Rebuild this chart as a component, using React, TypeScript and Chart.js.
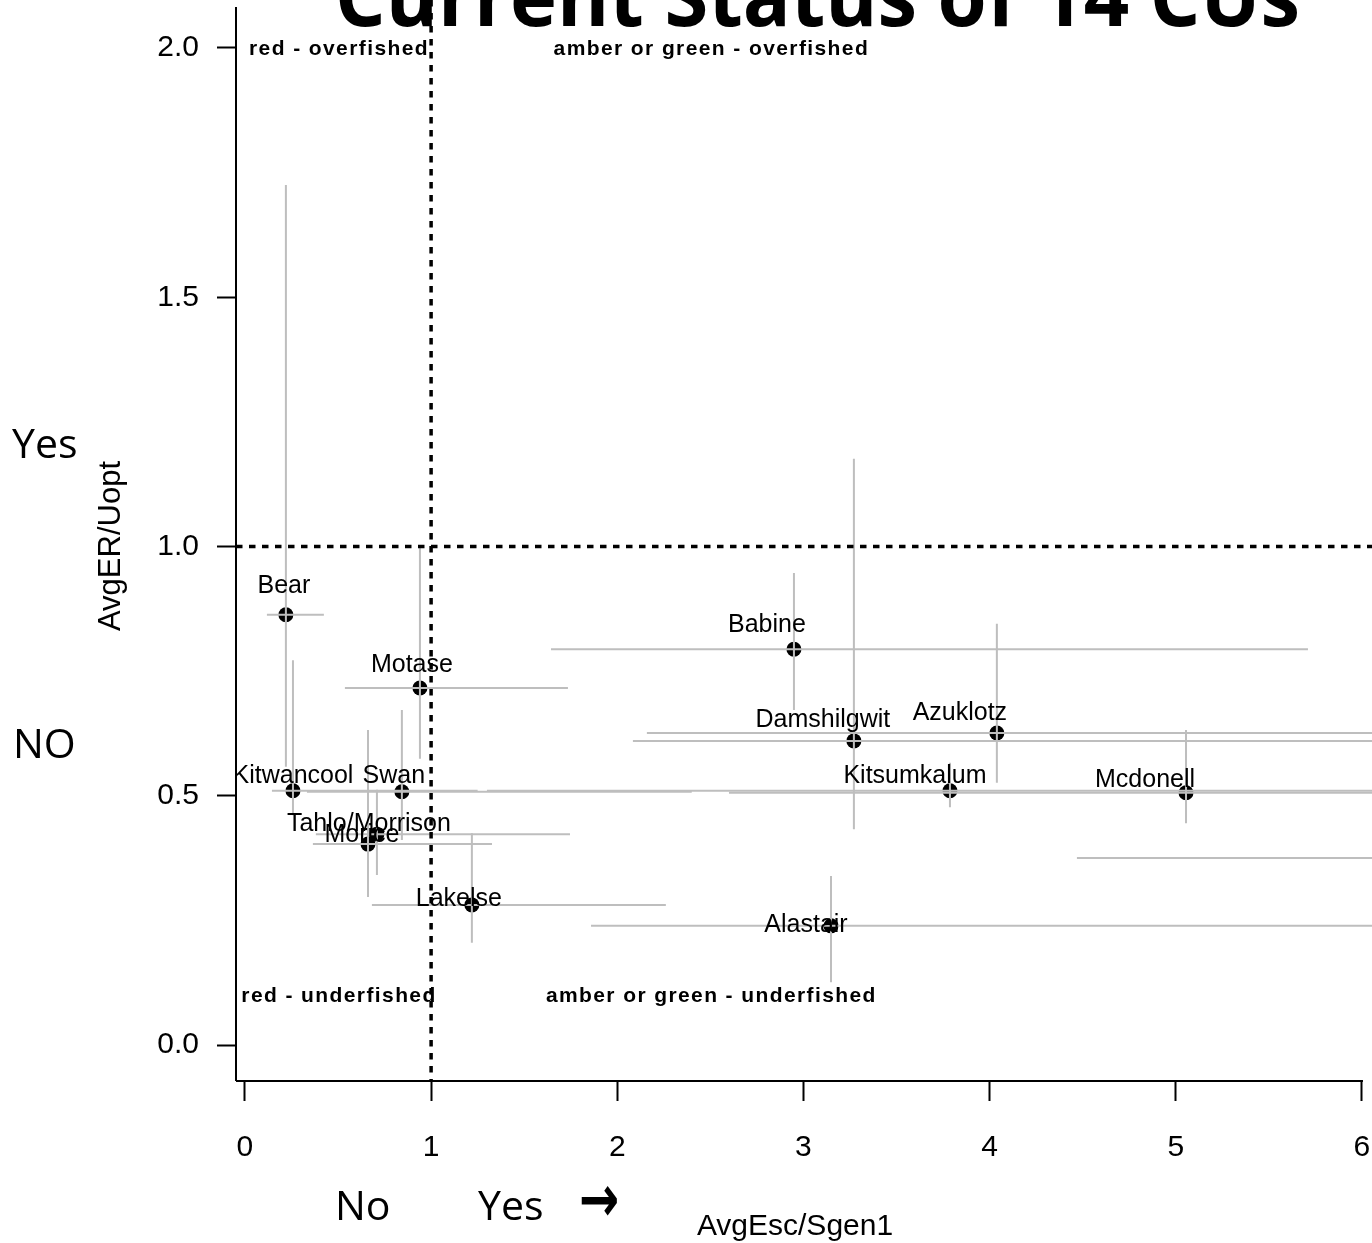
import React, { useEffect, useRef } from "react";
import { Chart, registerables } from "chart.js";

Chart.register(...registerables);

// ---- data ----
const cuNames = [
  "Bear", "Motase", "Babine", "Damshilgwit", "Azuklotz", "Kitsumkalum", "Mcdonell",
  "Kitwancool", "Swan", "Tahlo/Morrison", "Morice", "Lakelse", "Alastair", "",
];
const escRatio = [0.22, 0.94, 2.949, 3.271, 4.039, 3.787, 5.055, 0.258, 0.843, 0.709, 0.661, 1.219, 3.148, 7.5];
const escLow = [0.118, 0.537, 1.644, 2.084, 2.159, 1.3, 2.6, 0.145, 0.333, 0.381, 0.365, 0.682, 1.859, 4.469];
const escHigh = [0.424, 1.735, 5.71, 7.2, 7.6, 7.0, 8.5, 1.25, 2.4, 1.746, 1.327, 2.261, 7.6, 11.0];
const erRatio = [0.863, 0.716, 0.794, 0.61, 0.626, 0.51, 0.506, 0.51, 0.508, 0.423, 0.403, 0.281, 0.239, 0.375];
const erLow = [0.558, 0.574, 0.672, 0.433, 0.526, 0.477, 0.445, 0.461, 0.411, 0.341, 0.297, 0.205, 0.126, 0.3];
const erHigh = [1.725, 0.997, 0.947, 1.176, 0.845, 0.566, 0.632, 0.772, 0.672, 0.512, 0.632, 0.425, 0.339, 0.45];

const xTicks = [0, 1, 2, 3, 4, 5, 6];
const yTicks = [0, 0.5, 1, 1.5, 2];
const refX = 1;
const refY = 1;

const quadText = [
  "red - overfished",
  "amber or green - overfished",
  "red - underfished",
  "amber or green - underfished",
];
const quadX = [0.5, 2.5, 0.5, 2.5];
const quadY = [2.0, 2.0, 0.1, 0.1];

const titleText = "Current Status of 14 CUs";
const xTitle = "AvgEsc/Sgen1";
const yTitle = "AvgER/Uopt";

// ---- layout / style (not data) ----
const X_MIN = -0.048;
const X_MAX = 6.054;
const Y_MIN = -0.0702;
const Y_MAX = 2.0802;
const labelNudge: [number, number][] = [
  [-2, -22], [-8, -16], [-27, -17], [-31, -14], [-37, -13], [-35, -8], [-41, -6],
  [0, -8], [-8, -9], [-8, -3], [-6, -2], [-13, 1], [-25, 6], [0, 0],
];
const RFONT = "'Liberation Sans', Arial, sans-serif";
const PFONT = "'Open Sans', Calibri, sans-serif";

export default function App() {
  const ref = useRef<HTMLCanvasElement>(null);

  useEffect(() => {
    const canvas = ref.current!;

    const overlay = {
      id: "overlay",
      afterDatasetsDraw(chart: any) {
        const { ctx, chartArea: ca } = chart;
        const xs = chart.scales.x;
        const ys = chart.scales.y;

        // error bars (over points)
        ctx.save();
        ctx.beginPath();
        ctx.rect(ca.left, ca.top, ca.right - ca.left, ca.bottom - ca.top);
        ctx.clip();
        ctx.strokeStyle = "#bebebe";
        ctx.lineWidth = 2;
        for (let i = 0; i < escRatio.length; i++) {
          const px = xs.getPixelForValue(escRatio[i]);
          const py = ys.getPixelForValue(erRatio[i]);
          ctx.beginPath();
          ctx.moveTo(xs.getPixelForValue(escLow[i]), py);
          ctx.lineTo(xs.getPixelForValue(escHigh[i]), py);
          ctx.moveTo(px, ys.getPixelForValue(erLow[i]));
          ctx.lineTo(px, ys.getPixelForValue(erHigh[i]));
          ctx.stroke();
        }
        ctx.restore();

        // x axis line
        ctx.save();
        ctx.strokeStyle = "#000";
        ctx.lineWidth = 2;
        ctx.beginPath();
        ctx.moveTo(ca.left, ca.bottom + 1);
        ctx.lineTo(xs.getPixelForValue(xTicks[xTicks.length - 1]) + 1, ca.bottom + 1);
        ctx.stroke();
        ctx.restore();

        // point labels (clipped to plot)
        ctx.save();
        ctx.beginPath();
        ctx.rect(ca.left, 0, ca.right - ca.left, ca.bottom);
        ctx.clip();
        ctx.fillStyle = "#000";
        ctx.font = `25px ${RFONT}`;
        ctx.textAlign = "center";
        ctx.textBaseline = "alphabetic";
        for (let i = 0; i < cuNames.length; i++) {
          if (!cuNames[i]) continue;
          const px = xs.getPixelForValue(escRatio[i]);
          const py = ys.getPixelForValue(erRatio[i]);
          ctx.fillText(cuNames[i], px + labelNudge[i][0], py + labelNudge[i][1]);
        }
        ctx.restore();

        // dotted reference lines
        ctx.save();
        ctx.strokeStyle = "#000";
        ctx.lineWidth = 3.5;
        ctx.setLineDash([6.5, 6.5]);
        const vx = xs.getPixelForValue(refX);
        ctx.beginPath();
        ctx.moveTo(vx, 0);
        ctx.lineTo(vx, ca.bottom);
        ctx.stroke();
        const hy = ys.getPixelForValue(refY);
        ctx.beginPath();
        ctx.moveTo(ca.left, hy);
        ctx.lineTo(ca.right, hy);
        ctx.stroke();
        ctx.restore();

        // quadrant labels
        ctx.save();
        ctx.fillStyle = "#000";
        ctx.font = `bold 21px ${RFONT}`;
        (ctx as any).letterSpacing = "1.4px";
        ctx.textAlign = "center";
        ctx.textBaseline = "middle";
        for (let i = 0; i < quadText.length; i++) {
          ctx.fillText(quadText[i], xs.getPixelForValue(quadX[i]) + 1, ys.getPixelForValue(quadY[i]) + 1);
        }
        ctx.restore();
      },
      afterDraw(chart: any) {
        const { ctx, chartArea: ca } = chart;
        ctx.save();
        ctx.fillStyle = "#000";

        // axis titles
        ctx.font = `30px ${RFONT}`;
        ctx.textAlign = "center";
        ctx.textBaseline = "alphabetic";
        ctx.fillText(xTitle, 795, 1235);
        ctx.save();
        ctx.translate(120, (ca.top + ca.bottom) / 2 + 2);
        ctx.rotate(-Math.PI / 2);
        ctx.font = `31px ${RFONT}`;
        ctx.fillText(yTitle, 0, 0);
        ctx.restore();

        // slide-style annotations
        ctx.font = `41px ${PFONT}`;
        ctx.textAlign = "left";
        ctx.fillText("Yes", 12, 458);
        ctx.fillText("NO", 13, 758);
        ctx.fillText("No", 335, 1220);
        ctx.fillText("Yes", 478, 1220);
        ctx.save();
        ctx.font = `bold 48px 'DejaVu Sans', sans-serif`;
        ctx.textBaseline = "middle";
        ctx.translate(579, 1204);
        ctx.scale(1, 1.35);
        ctx.fillText("\u2192", 0, 0);
        ctx.restore();

        // title (cut off at the top)
        ctx.font = `bold 82px ${PFONT}`;
        ctx.textBaseline = "alphabetic";
        const w = ctx.measureText(titleText).width;
        ctx.translate(335, 26);
        ctx.scale(965 / w, 1);
        ctx.fillText(titleText, 0, 0);
        ctx.restore();
      },
    };

    const chart = new Chart(canvas, {
      type: "scatter",
      data: {
        datasets: [
          {
            data: escRatio.map((x, i) => ({ x, y: erRatio[i] })),
            pointRadius: 7.5,
            pointHoverRadius: 7.5,
            pointBackgroundColor: "#000",
            pointBorderWidth: 0,
            showLine: false,
          },
        ],
      },
      options: {
        responsive: false,
        animation: false,
        events: [],
        layout: { autoPadding: false, padding: { top: 8, left: 0, right: 0, bottom: 0 } },
        plugins: {
          legend: { display: false },
          tooltip: { enabled: false },
          title: { display: false },
        },
        scales: {
          x: {
            type: "linear",
            min: X_MIN,
            max: X_MAX,
            afterBuildTicks: (s: any) => {
              s.ticks = xTicks.map((v) => ({ value: v }));
            },
            afterFit: (s: any) => {
              s.height = 163;
              s.paddingLeft = 0;
              s.paddingRight = 0;
            },
            ticks: {
              color: "#000",
              font: { family: RFONT, size: 30 },
              padding: 29,
              maxRotation: 0,
              autoSkip: false,
              callback: (v: any) => String(v),
            },
            grid: {
              drawOnChartArea: false,
              drawTicks: true,
              tickLength: 21,
              tickWidth: 2,
              tickColor: "#000",
            },
            border: { display: false },
          },
          y: {
            type: "linear",
            min: Y_MIN,
            max: Y_MAX,
            afterBuildTicks: (s: any) => {
              s.ticks = yTicks.map((v) => ({ value: v }));
            },
            afterFit: (s: any) => {
              s.width = 236;
              s.paddingTop = 0;
              s.paddingBottom = 0;
            },
            ticks: {
              color: "#000",
              font: { family: RFONT, size: 30 },
              padding: 18,
              autoSkip: false,
              callback: (v: any) => Number(v).toFixed(1),
            },
            grid: {
              drawOnChartArea: false,
              drawTicks: true,
              tickLength: 19,
              tickWidth: 2,
              tickColor: "#000",
            },
            border: { display: true, color: "#000", width: 2 },
          },
        },
      },
      plugins: [overlay],
    } as any);

    return () => chart.destroy();
  }, []);

  return (
    <div style={{ position: "fixed", left: 0, top: 0, width: 1372, height: 1243, background: "#fff" }}>
      <canvas ref={ref} width={1372} height={1243} style={{ display: "block" }} />
    </div>
  );
}
